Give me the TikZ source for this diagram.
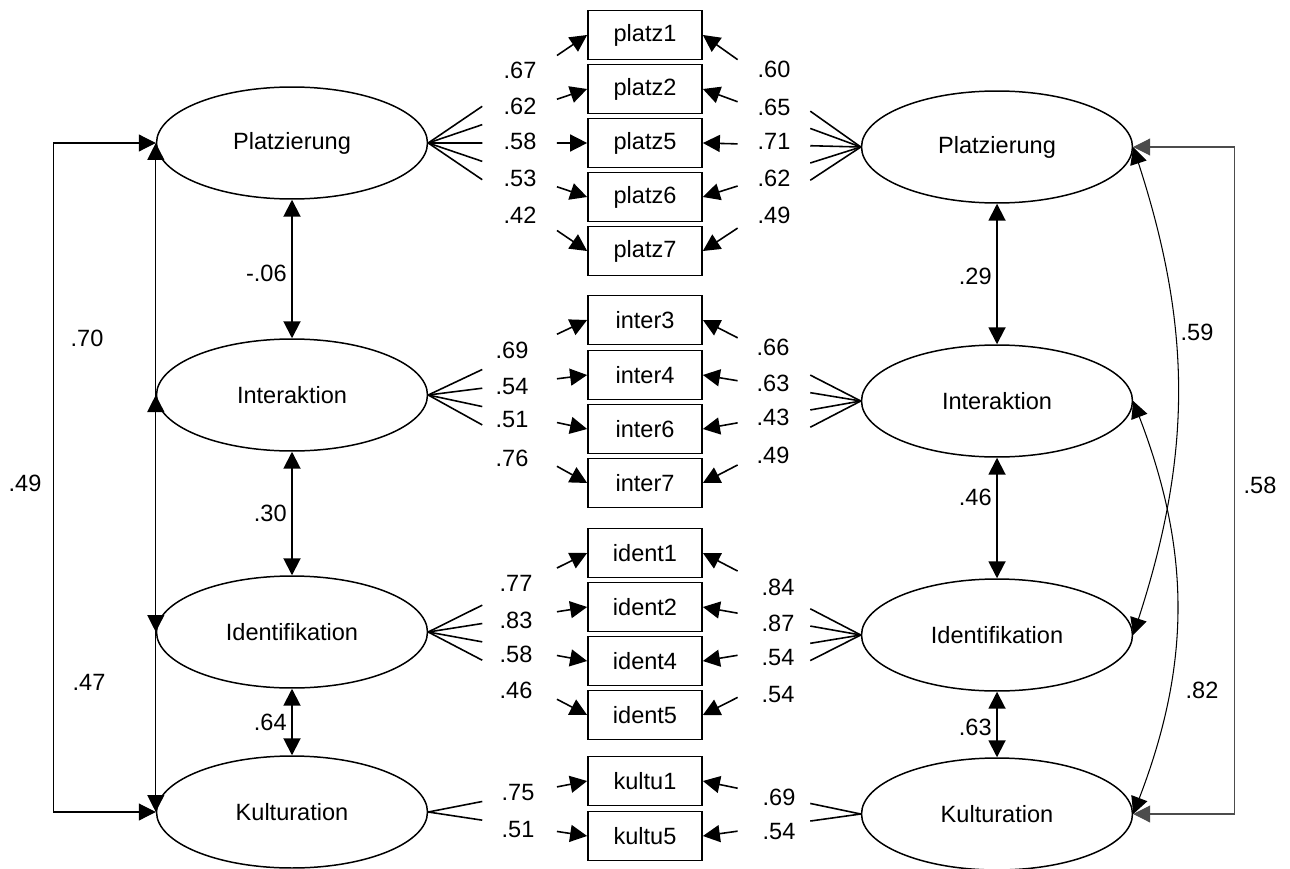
\documentclass[tikz,border=0pt]{standalone}
\usepackage{fontspec}
\setmainfont{Liberation Sans}
\usepackage{tikz}
\usetikzlibrary{arrows.meta,calc,shapes.geometric}

\tikzset{
  latent/.style={shape=ellipse,draw,line width=0.85pt,minimum width=5.42cm,minimum height=2.24cm,inner sep=0pt},
  item/.style={shape=rectangle,draw,line width=1pt,minimum width=2.28cm,minimum height=0.98cm,inner sep=0pt},
  val/.style={inner sep=0pt},
  >={Triangle[length=3.4mm,width=3.4mm]}
}
% loading: short stub at the factor, arrow piece at the item
\newcommand{\loadline}[4]{%
  \draw [line width=0.9pt] (#1) -- ($(#1)!#3!(#2)$);
  \draw [->,line width=0.9pt] ($(#1)!#4!(#2)$) -- (#2);}

\begin{document}
\begin{tikzpicture}[x=0.02cm,y=-0.02cm,font=\fontsize{13.4}{16}\selectfont]
\useasboundingbox (0,0) rectangle (1290,868);

% factors
\path (292,143) node (platzL) [latent] {Platzierung};
\path (292,395) node (interL) [latent] {Interaktion};
\path (292,632) node (identL) [latent] {Identifikation};
\path (292,812) node (kultL) [latent] {Kulturation};
\path (997,147) node (platzR) [latent] {Platzierung};
\path (997,401) node (interR) [latent] {Interaktion};
\path (997,635) node (identR) [latent] {Identifikation};
\path (997,814) node (kultR) [latent] {Kulturation};

% items
\path (645,35) node (platz1) [item] {platz1};
\path (645,89) node (platz2) [item] {platz2};
\path (645,143) node (platz5) [item] {platz5};
\path (645,197) node (platz6) [item] {platz6};
\path (645,251) node (platz7) [item] {platz7};
\path (645,320) node (inter3) [item] {inter3};
\path (645,375) node (inter4) [item] {inter4};
\path (645,429) node (inter6) [item] {inter6};
\path (645,483) node (inter7) [item] {inter7};
\path (645,553) node (ident1) [item] {ident1};
\path (645,607) node (ident2) [item] {ident2};
\path (645,661) node (ident4) [item] {ident4};
\path (645,715) node (ident5) [item] {ident5};
\path (645,781) node (kultu1) [item] {kultu1};
\path (645,836) node (kultu5) [item] {kultu5};

% loadings, left model
\loadline{platzL.east}{platz1.west}{0.34}{0.81}
\loadline{platzL.east}{platz2.west}{0.34}{0.81}
\loadline{platzL.east}{platz5.west}{0.34}{0.81}
\loadline{platzL.east}{platz6.west}{0.34}{0.81}
\loadline{platzL.east}{platz7.west}{0.34}{0.81}
\loadline{interL.east}{inter3.west}{0.34}{0.81}
\loadline{interL.east}{inter4.west}{0.34}{0.81}
\loadline{interL.east}{inter6.west}{0.34}{0.81}
\loadline{interL.east}{inter7.west}{0.34}{0.81}
\loadline{identL.east}{ident1.west}{0.34}{0.81}
\loadline{identL.east}{ident2.west}{0.34}{0.81}
\loadline{identL.east}{ident4.west}{0.34}{0.81}
\loadline{identL.east}{ident5.west}{0.34}{0.81}
\loadline{kultL.east}{kultu1.west}{0.34}{0.81}
\loadline{kultL.east}{kultu5.west}{0.34}{0.81}

% loadings, right model
\loadline{platzR.west}{platz1.east}{0.32}{0.78}
\loadline{platzR.west}{platz2.east}{0.32}{0.78}
\loadline{platzR.west}{platz5.east}{0.32}{0.78}
\loadline{platzR.west}{platz6.east}{0.32}{0.78}
\loadline{platzR.west}{platz7.east}{0.32}{0.78}
\loadline{interR.west}{inter3.east}{0.32}{0.78}
\loadline{interR.west}{inter4.east}{0.32}{0.78}
\loadline{interR.west}{inter6.east}{0.32}{0.78}
\loadline{interR.west}{inter7.east}{0.32}{0.78}
\loadline{identR.west}{ident1.east}{0.32}{0.78}
\loadline{identR.west}{ident2.east}{0.32}{0.78}
\loadline{identR.west}{ident4.east}{0.32}{0.78}
\loadline{identR.west}{ident5.east}{0.32}{0.78}
\loadline{kultR.west}{kultu1.east}{0.32}{0.78}
\loadline{kultR.west}{kultu5.east}{0.32}{0.78}

% loading values
\path (520,70) node (lp1) [val] {.67};
\path (520,106) node (lp2) [val] {.62};
\path (520,141) node (lp5) [val] {.58};
\path (520,178) node (lp6) [val] {.53};
\path (520,215) node (lp7) [val] {.42};
\path (512,350) node (li3) [val] {.69};
\path (512,387) node (li4) [val] {.54};
\path (512,420) node (li6) [val] {.51};
\path (512,458) node (li7) [val] {.76};
\path (516,583) node (ld1) [val] {.77};
\path (516,620) node (ld2) [val] {.83};
\path (516,654) node (ld4) [val] {.58};
\path (516,690) node (ld5) [val] {.46};
\path (518,793) node (lk1) [val] {.75};
\path (518,830) node (lk5) [val] {.51};
\path (774,69) node (rp1) [val] {.60};
\path (774,107) node (rp2) [val] {.65};
\path (774,141) node (rp5) [val] {.71};
\path (774,178) node (rp6) [val] {.62};
\path (774,215) node (rp7) [val] {.49};
\path (773,347) node (ri3) [val] {.66};
\path (773,383) node (ri4) [val] {.63};
\path (773,417) node (ri6) [val] {.43};
\path (773,455) node (ri7) [val] {.49};
\path (778,587) node (rd1) [val] {.84};
\path (778,623) node (rd2) [val] {.87};
\path (778,658) node (rd4) [val] {.54};
\path (778,695) node (rd5) [val] {.54};
\path (779,797) node (rk1) [val] {.69};
\path (779,832) node (rk5) [val] {.54};

% neighbour correlations
\draw [<->,line width=1.1pt] (platzL) to (interL);
\draw [<->,line width=1.1pt] (interL) to (identL);
\draw [<->,line width=1.1pt] (identL) to (kultL);
\draw [<->,line width=1.1pt] (platzR) to (interR);
\draw [<->,line width=1.1pt] (interR) to (identR);
\draw [<->,line width=1.1pt] (identR) to (kultR);
\path (287,273) node (cl1) [val,anchor=east] {-.06};
\path (287,513) node (cl2) [val,anchor=east] {.30};
\path (287,722) node (cl3) [val,anchor=east] {.64};
\path (992,276) node (cr1) [val,anchor=east] {.29};
\path (992,497) node (cr2) [val,anchor=east] {.46};
\path (992,727) node (cr3) [val,anchor=east] {.63};

% other correlations, left
\draw [<->,line width=0.6pt] (platzL.west) to (identL.west);
\draw [<->,line width=0.6pt] (interL.west) to (kultL.west);
\draw [<->,line width=0.6pt] (platzL.west) -- ++(-102,0) |- (kultL.west);
\path (87,338) node (cl4) [val] {.70};
\path (89,682) node (cl5) [val] {.47};
\path (25,483) node (cl6) [val] {.49};

% other correlations, right
\draw [<->,line width=0.6pt] (platzR.east) to [bend left=18] (identR.east);
\draw [<->,line width=0.6pt] (interR.east) to [bend left=21] (kultR.east);
\draw [<->,line width=0.6pt,black!70] (platzR.east) -- ++(101,0) |- (kultR.east);
\path (1197,332) node (cr4) [val] {.59};
\path (1202,690) node (cr5) [val] {.82};
\path (1260,485) node (cr6) [val] {.58};
\end{tikzpicture}
\end{document}
